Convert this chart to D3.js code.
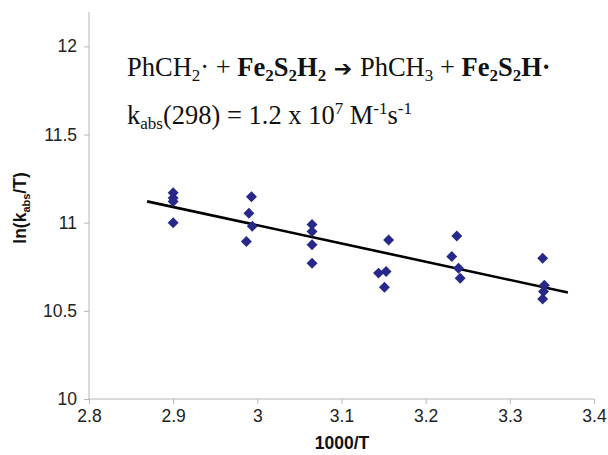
<!DOCTYPE html>
<meta charset="utf-8">
<style>
  body { margin: 0; background: #fff; }
  .axis path, .axis line { stroke: #b5b5b5; }
  .axis text { font-family: "Liberation Sans", Arial, sans-serif; font-size: 17.5px; fill: #222; }
  .ttl { font-family: "Liberation Sans", Arial, sans-serif; font-size: 17.5px; font-weight: bold; fill: #111; }
  .eq { font-family: "Liberation Serif", "Times New Roman", serif; font-size: 26.5px; fill: #111; }
</style>
<body></body>
<script src="https://d3js.org/d3.v7.min.js"></script>
<script>

// measured points (1000/T, ln(kabs/T))
var invT = [2.90, 2.90, 2.90, 2.90,
            2.993, 2.990, 2.994, 2.987,
            3.065, 3.065, 3.065, 3.065,
            3.144, 3.153, 3.151, 3.156,
            3.237, 3.231, 3.239, 3.241,
            3.339, 3.341, 3.340, 3.339];
var lnK = [11.17, 11.14, 11.12, 11.00,
           11.147, 11.053, 10.98, 10.893,
           10.99, 10.95, 10.875, 10.77,
           10.714, 10.723, 10.634, 10.902,
           10.925, 10.808, 10.742, 10.685,
           10.798, 10.645, 10.61, 10.567];

// linear fit end points
var fitX = [2.869, 3.369];
var fitY = [11.121, 10.604];

var xTicks = [2.8, 2.9, 3.0, 3.1, 3.2, 3.3, 3.4];
var yTicks = [10, 10.5, 11, 11.5, 12];

var W = 608, H = 455;
var margin = {left: 89, top: 12, right: 14, bottom: 56};

var svg = d3.select("body").append("svg")
    .attr("width", W)
    .attr("height", H);

var xScale = d3.scaleLinear().domain([2.8, 3.4]).range([margin.left, 594]);
var yScale = d3.scaleLinear().domain([10, 12.195]).range([399, margin.top]);

var xAxis = d3.axisBottom(xScale).tickValues(xTicks).tickSize(5).tickPadding(6)
    .tickFormat(function (d) { return d3.format("")(+d.toFixed(1)); });
var yAxis = d3.axisLeft(yScale).tickValues(yTicks).tickSize(5).tickPadding(7)
    .tickFormat(function (d) { return d3.format("")(d); });

svg.append("g")
    .attr("class", "axis")
    .attr("transform", "translate(0," + yScale(10) + ")")
    .call(xAxis)
  .call(function (g) { g.select(".domain").attr("d", "M" + xScale(2.8) + ",0H" + xScale(3.4)); });

svg.append("g")
    .attr("class", "axis")
    .attr("transform", "translate(" + xScale(2.8) + ",0)")
    .call(yAxis)
  .call(function (g) { g.select(".domain").attr("d", "M0," + yScale(10) + "V" + margin.top); });

// fit line
svg.append("line")
    .attr("x1", xScale(fitX[0])).attr("y1", yScale(fitY[0]))
    .attr("x2", xScale(fitX[1])).attr("y2", yScale(fitY[1]))
    .attr("stroke", "#000")
    .attr("stroke-width", 2.6);

// diamonds
var diamond = d3.symbol().type(d3.symbolSquare).size(60);
svg.selectAll(".pt")
    .data(invT)
  .enter().append("path")
    .attr("class", "pt")
    .attr("d", diamond)
    .attr("transform", function (d, i) {
      return "translate(" + xScale(d) + "," + yScale(lnK[i]) + ") rotate(45)";
    })
    .attr("fill", "#28288a");

// axis titles
svg.append("text")
    .attr("class", "ttl")
    .attr("x", 342).attr("y", 449)
    .attr("text-anchor", "middle")
    .text("1000/T");

var yl = svg.append("text")
    .attr("class", "ttl")
    .attr("transform", "translate(26,208) rotate(-90)")
    .attr("text-anchor", "middle");
yl.append("tspan").text("ln(k");
yl.append("tspan").attr("font-size", 11).attr("dy", 4).text("abs");
yl.append("tspan").attr("dy", -4).text("/T)");

// equation text
var sub = 17;
var t1 = svg.append("text").attr("class", "eq").attr("x", 127).attr("y", 76);
t1.append("tspan").text("PhCH");
t1.append("tspan").attr("font-size", sub).attr("dy", 5).text("2");
t1.append("tspan").attr("dy", -5).text("· + ");
t1.append("tspan").attr("font-weight", "bold").text("Fe");
t1.append("tspan").attr("font-weight", "bold").attr("font-size", sub).attr("dy", 5).text("2");
t1.append("tspan").attr("font-weight", "bold").attr("dy", -5).text("S");
t1.append("tspan").attr("font-weight", "bold").attr("font-size", sub).attr("dy", 5).text("2");
t1.append("tspan").attr("font-weight", "bold").attr("dy", -5).text("H");
t1.append("tspan").attr("font-weight", "bold").attr("font-size", sub).attr("dy", 5).text("2");
t1.append("tspan").attr("dy", -5).attr("font-weight", "bold").attr("font-family", "DejaVu Sans").attr("font-size", 22).text(" \u2794 ");
t1.append("tspan").text("PhCH");
t1.append("tspan").attr("font-size", sub).attr("dy", 5).text("3");
t1.append("tspan").attr("dy", -5).text(" + ");
t1.append("tspan").attr("font-weight", "bold").text("Fe");
t1.append("tspan").attr("font-weight", "bold").attr("font-size", sub).attr("dy", 5).text("2");
t1.append("tspan").attr("font-weight", "bold").attr("dy", -5).text("S");
t1.append("tspan").attr("font-weight", "bold").attr("font-size", sub).attr("dy", 5).text("2");
t1.append("tspan").attr("font-weight", "bold").attr("dy", -5).text("H·");

var t2 = svg.append("text").attr("class", "eq").attr("x", 127).attr("y", 124);
t2.append("tspan").text("k");
t2.append("tspan").attr("font-size", sub).attr("dy", 5).text("abs");
t2.append("tspan").attr("dy", -5).text("(298) = 1.2 x 10");
t2.append("tspan").attr("font-size", sub).attr("dy", -10).text("7");
t2.append("tspan").attr("dy", 10).text(" M");
t2.append("tspan").attr("font-size", sub).attr("dy", -10).text("-1");
t2.append("tspan").attr("dy", 10).text("s");
t2.append("tspan").attr("font-size", sub).attr("dy", -10).text("-1");

</script>
